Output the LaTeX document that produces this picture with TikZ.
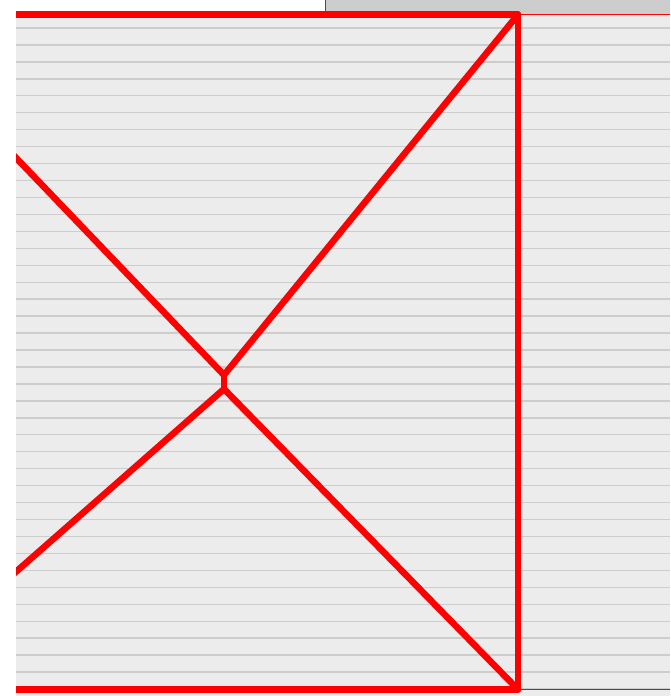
\documentclass[tikz,border=0pt]{standalone}
\usepackage{tikz}
\usetikzlibrary{calc}
\definecolor{sheet}{HTML}{ECECEC}
\definecolor{rule}{HTML}{CDCDCD}
\definecolor{strip}{HTML}{CDCDCD}
\tikzset{
  ruled/.style   ={draw=rule, line width=1.4pt},
  frame/.style   ={draw=red, line width=6.5pt, line cap=round, line join=round},
  thinred/.style ={draw=red, line width=1pt},
}

\begin{document}
\begin{tikzpicture}[x=1pt, y=-1pt]
  \useasboundingbox (0,0) rectangle (670,696);
  % paper and header strip
  \fill[white] (0,0) rectangle (670,696);
  \fill[sheet] (16,13) rectangle (670,696);
  \fill[strip] (325,0) rectangle (670,14);
  \foreach \k in {1,...,40}
    \draw[ruled] (16,{11+16.95*\k}) -- (670,{11+16.95*\k});
  % corner points
  \coordinate (tl) at (10,14.5);
  \coordinate (tr) at (518,14.5);
  \coordinate (br) at (518,689.5);
  \coordinate (bl) at (10,689.5);
  \coordinate (lu) at (10,151.5);
  \coordinate (ld) at (10,577);
  \coordinate (xu) at (224,375);
  \coordinate (xd) at (224,389);
  % thin edges
  \draw[thinred] (325,0) -- (325,14);
  \draw[thinred] (tr) -- (670,14.5);
  \draw[thinred] (br) -- (670,689.5);
  % thick frame and cross, cut at the margin
  \begin{scope}
    \clip (16,0) rectangle (670,696);
    \draw[frame] (tl) -- (tr) -- (br) -- (bl);
    \draw[frame] (lu) -- (xu) -- (tr);
    \draw[frame] (ld) -- (xd) -- (br);
    \draw[frame] (xu) -- (xd);
  \end{scope}
\end{tikzpicture}
\end{document}
